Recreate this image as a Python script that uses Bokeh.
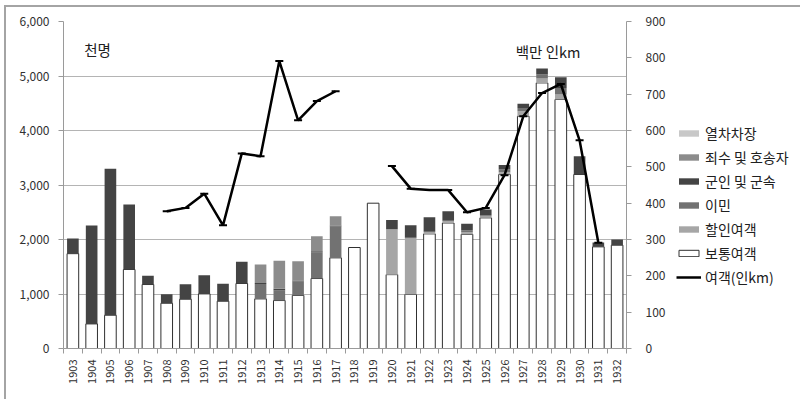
import math
import numpy as np
from bokeh.plotting import figure
from bokeh.layouts import row
from bokeh.models import (ColumnDataSource, Range1d, LinearAxis, FixedTicker,
                          NumeralTickFormatter, Legend, LegendItem, Label)
from bokeh.transform import stack
from bokeh.embed import file_html
from bokeh.resources import INLINE

nan = float("nan")

# 조선 철도 여객 수송 (단위: 천명) 및 여객 인km (단위: 백만 인km)
years = list(range(1903, 1933))

regular = [1740, 451, 611, 1450, 1174, 831, 905, 1002, 868, 1193,
           910, 880, 975, 1284, 1663, 1853, 2666, 1355, 991, 2103,
           2303, 2095, 2397, 3193, 4262, 4873, 4569, 3193, 1865, 1896]
discount = [0, 0, 0, 0, 0, 0, 0, 0, 0, 0,
            0, 0, 0, 0, 0, 0, 0, 832, 1039, 37,
            43, 40, 25, 43, 90, 80, 90, 0, 0, 0]
emigrants = [0, 0, 0, 0, 0, 0, 0, 0, 0, 0,
             275, 184, 257, 483, 575, 0, 0, 0, 0, 0,
             0, 33, 24, 50, 60, 73, 120, 0, 0, 0]
military = [278, 1806, 2685, 1192, 159, 165, 275, 343, 318, 397,
            18, 31, 18, 18, 18, 0, 0, 171, 233, 269,
            171, 122, 104, 80, 80, 110, 200, 335, 80, 104]
prisoners = [0, 0, 0, 0, 0, 0, 0, 0, 0, 0,
             337, 514, 349, 275, 171, 0, 0, 0, 0, 0,
             0, 0, 0, 0, 0, 0, 0, 0, 0, 0]
train_crew = [0] * 30
passenger_km = [nan, nan, nan, nan, nan, 378, 387, 426, 339, 537,
                529, 791, 628, 681, 708, nan, nan, 502, 440, 436,
                436, 375, 387, 477, 639, 703, 728, 573, 291, nan]

series_names = ["regular", "discount", "emigrants", "military", "prisoners", "train_crew"]
series_labels = ["보통여객", "할인여객", "이민", "군인 및 군속", "죄수 및 호송자", "열차차장"]
series_fill = ["#ffffff", "#a6a6a6", "#727272", "#444444", "#8c8c8c", "#c8c8c8"]

src = ColumnDataSource(dict(
    year=years, regular=regular, discount=discount, emigrants=emigrants,
    military=military, prisoners=prisoners, train_crew=train_crew,
    pkm=np.array(passenger_km, dtype=float),
))

FONT = "Noto Sans CJK KR"


def add_series(fig, y_range_name):
    """Draw the stacked bars and the passenger-km line onto fig."""
    bars = {}
    for i, name in enumerate(series_names):
        bottom = stack(*series_names[:i]) if i > 0 else 0
        is_regular = name == "regular"
        bars[name] = fig.vbar(x="year", bottom=bottom, top=stack(*series_names[:i + 1]),
                              width=0.62, source=src, fill_color=series_fill[i],
                              line_color="#303030" if is_regular else None,
                              line_width=1 if is_regular else 0)
    line = fig.line(x="year", y="pkm", source=src, y_range_name=y_range_name,
                    line_color="black", line_width=2.5)
    marks = fig.scatter(x="year", y="pkm", source=src, y_range_name=y_range_name,
                        marker="dash", size=8, line_color="black", line_width=2)
    return bars, line, marks


# ---- main chart ----
chart = figure(frame_width=563, frame_height=327, output_backend="svg", toolbar_location=None,
               x_range=Range1d(1902.5, 1932.5), y_range=Range1d(0, 6000),
               min_border_left=57, min_border_right=45, min_border_top=14,
               min_border_bottom=52, background_fill_color="white",
               border_fill_color="white")
chart.outline_line_color = None
chart.extra_y_ranges = {"pkm": Range1d(0, 900)}
add_series(chart, "pkm")

chart.xaxis.ticker = FixedTicker(ticks=years, minor_ticks=[y - 0.5 for y in years] + [years[-1] + 0.5])
chart.xaxis.major_label_orientation = math.pi / 2
chart.xaxis.major_tick_out = 0
chart.xaxis.major_tick_in = 0
chart.xaxis.minor_tick_out = 5
chart.xaxis.minor_tick_in = 0
chart.xaxis.minor_tick_line_color = "#9a9a9a"
chart.xaxis.axis_line_color = "#9a9a9a"
chart.xaxis.major_label_text_font = FONT
chart.xaxis.major_label_text_font_size = "11px"
chart.xaxis.major_label_text_color = "#303030"
chart.xaxis.major_label_standoff = 6

chart.yaxis.ticker = FixedTicker(ticks=list(range(0, 6001, 1000)))
chart.yaxis.formatter = NumeralTickFormatter(format="0,0")
chart.yaxis.major_tick_out = 5
chart.yaxis.major_tick_in = 0
chart.yaxis.minor_tick_line_color = None
chart.yaxis.axis_line_color = "#9a9a9a"
chart.yaxis.major_tick_line_color = "#9a9a9a"
chart.yaxis.major_label_text_font = FONT
chart.yaxis.major_label_text_font_size = "12px"
chart.yaxis.major_label_text_color = "#303030"
chart.yaxis.major_label_standoff = 9

right_axis = LinearAxis(y_range_name="pkm", ticker=FixedTicker(ticks=list(range(0, 901, 100))))
right_axis.major_tick_out = 5
right_axis.major_tick_in = 0
right_axis.minor_tick_line_color = None
right_axis.axis_line_color = "#9a9a9a"
right_axis.major_tick_line_color = "#9a9a9a"
right_axis.major_label_text_font = FONT
right_axis.major_label_text_font_size = "12px"
right_axis.major_label_text_color = "#303030"
right_axis.major_label_standoff = 14
chart.add_layout(right_axis, "right")

chart.xgrid.visible = False
chart.ygrid.ticker = FixedTicker(ticks=list(range(0, 6001, 1000)))
chart.ygrid.grid_line_color = "#b4b4b4"
chart.ygrid.grid_line_width = 1

# unit labels
chart.add_layout(Label(x=1903.6, y=5490, text="천명", text_font=FONT,
                       text_font_size="14.5px", text_baseline="middle", text_color="#202020"))
chart.add_layout(Label(x=1926.6, y=5455, text="백만 인km", text_font=FONT,
                       text_font_size="14.5px", text_baseline="middle", text_color="#202020"))

# ---- legend panel: same series, hidden, only their legend entries are shown ----
legend_fig = figure(width=131, height=393, output_backend="svg", toolbar_location=None,
                    x_range=Range1d(0, 1), y_range=Range1d(0, 1),
                    x_axis_location=None, y_axis_location=None,
                    min_border=0, background_fill_color="white", border_fill_color="white")
legend_fig.outline_line_color = None
legend_fig.grid.visible = False
legend_fig.extra_y_ranges = {"pkm": Range1d(0, 1)}
lg_bars, lg_line, lg_marks = add_series(legend_fig, "pkm")
for r in list(lg_bars.values()) + [lg_line, lg_marks]:
    r.visible = False

items = [LegendItem(label=series_labels[i], renderers=[lg_bars[series_names[i]]])
         for i in range(len(series_names) - 1, -1, -1)]
items.append(LegendItem(label="여객(인km)", renderers=[lg_line]))
legend = Legend(items=items, location=(5, 61), border_line_color=None,
                background_fill_alpha=0, inactive_fill_alpha=0,
                label_text_font=FONT,
                label_text_font_size="14px", label_text_color="#202020",
                glyph_width=25, glyph_height=8, label_height=14, spacing=4,
                padding=0, margin=0, label_standoff=4)
legend_fig.add_layout(legend)

p = row(chart, legend_fig)
p.margin = (5, 0, 0, 4)
p.styles = {"border-top": "2px solid #a4a4a4", "border-left": "2px solid #a4a4a4"}

open("out.html", "w").write(file_html(p, INLINE))
